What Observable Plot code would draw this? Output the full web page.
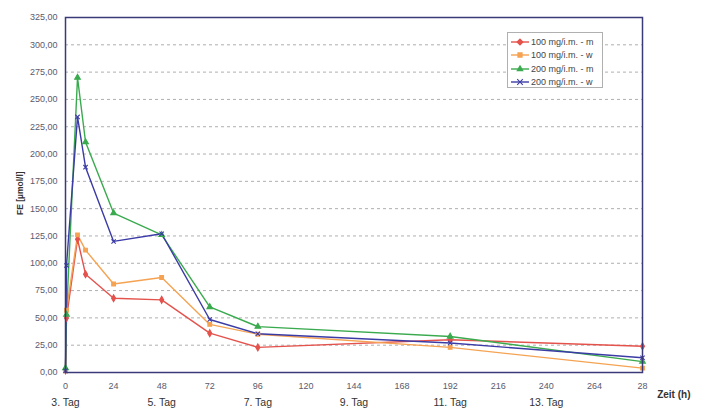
<!DOCTYPE html>
<html>
<head>
<meta charset="utf-8">
<script src="https://cdn.jsdelivr.net/npm/d3@7"></script>
<script src="https://cdn.jsdelivr.net/npm/@observablehq/plot@0.6"></script>
<style>
  body { margin: 0; background: #fff; font-family: "Liberation Sans", Arial, sans-serif; }
  #wrap { position: relative; width: 707px; height: 410px; }
  #legend { position: absolute; left: 507px; top: 32px; width: 96px; height: 56px; border: 1px solid #b0b0b0; background: #fff; box-sizing: border-box; padding: 2px 0 0 2px; }
  .row { display: flex; align-items: center; height: 13.5px; font-size: 9px; color: #444; white-space: nowrap; }
  .row svg { margin-right: 1px; flex: none; }
</style>
</head>
<body>
<div id="wrap"></div>
<script>
const hours = [0, 0.5, 6, 10, 24, 48, 72, 96, 192, 288];
const seriesNames = ["100 mg/i.m. - m", "100 mg/i.m. - w", "200 mg/i.m. - m", "200 mg/i.m. - w"];
const red    = [2, 50, 122, 90, 68, 66.5, 36, 23, 30, 24];
const orange = [2, 57, 126, 112, 81, 87, 44, 35, 23, 4];
const green  = [4, 53, 270, 211, 146, 126, 60, 42, 33, 10];
const blue   = [1.5, 98, 234, 188, 120, 127, 48.5, 35.5, 27, 13.5];
const colors = ["#e4524c", "#f5a352", "#3aaa4e", "#3b3ba6"];
const symbols = ["diamond", "square", "triangle", "times"];
const xTicks = [0, 24, 48, 72, 96, 120, 144, 168, 192, 216, 240, 264, 288];
const xTickLabels = ["0", "24", "48", "72", "96", "120", "144", "168", "192", "216", "240", "264", "28"];
const dayTicks = [0, 48, 96, 144, 192, 240];
const dayLabels = ["3. Tag", "5. Tag", "7. Tag", "9. Tag", "11. Tag", "13. Tag"];
const yTicks = d3.range(0, 326, 25);

const allValues = [red, orange, green, blue];
const data = [];
allValues.forEach((vals, i) => vals.forEach((v, j) => data.push({series: seriesNames[i], h: hours[j], v})));

const chart = Plot.plot({
  width: 707, height: 410,
  marginLeft: 65, marginRight: 65, marginTop: 17, marginBottom: 38,
  style: {fontFamily: "Liberation Sans, Arial, sans-serif", background: "#fff"},
  x: {domain: [0, 288]},
  y: {domain: [0, 325]},
  color: {domain: seriesNames, range: colors},
  symbol: {domain: seriesNames, range: symbols},
  marks: [
    Plot.gridY(yTicks.filter(d => d > 0 && d < 325), {stroke: "#9a9a9a", strokeOpacity: 1, strokeDasharray: "3,3", strokeWidth: 0.8}),
    Plot.axisY(yTicks, {tickSize: 0, tickPadding: 8, fontSize: 9, fill: "#5a5a6e", tickFormat: d => d.toFixed(2).replace(".", ","), label: null}),
    Plot.axisX(xTicks, {tickSize: 0, tickPadding: 10, fontSize: 9, fill: "#5a5a6e", tickFormat: d => xTickLabels[xTicks.indexOf(d)], label: null}),
    Plot.axisX(dayTicks, {tickSize: 0, tickPadding: 26, fontSize: 10.5, fill: "#333", tickFormat: d => dayLabels[dayTicks.indexOf(d)], label: null}),
    Plot.line(data, {x: "h", y: "v", z: "series", stroke: "series", strokeWidth: 1.4}),
    Plot.dot(data, {x: "h", y: "v", stroke: "series", fill: "series", symbol: "series", r: 2.1, strokeWidth: 1.1}),
    Plot.frame({stroke: "#3a3a78", strokeWidth: 1.5}),
    Plot.text(["Zeit (h)"], {frameAnchor: "bottom-right", dx: 48, dy: 25, fontSize: 10, fontWeight: "bold", fill: "#333"}),
    Plot.text(["FE [µmol/l]"], {frameAnchor: "left", dx: -45, dy: 20, rotate: -90, fontSize: 8.5, fontWeight: "bold", fill: "#333"})
  ]
});
const wrap = document.getElementById("wrap");
wrap.appendChild(chart);

const legend = document.createElement("div");
legend.id = "legend";
seriesNames.forEach((name, i) => {
  const row = document.createElement("div");
  row.className = "row";
  const sym = d3.symbol(
    {diamond: d3.symbolDiamond2, square: d3.symbolSquare2, triangle: d3.symbolTriangle2, times: d3.symbolTimes}[symbols[i]], 22)();
  row.innerHTML = `<svg width="20" height="10"><line x1="1" x2="19" y1="5" y2="5" stroke="${colors[i]}" stroke-width="1.4"/><path d="${sym}" transform="translate(10,5)" fill="${colors[i]}" stroke="${colors[i]}" stroke-width="1.1"/></svg><span>${name}</span>`;
  legend.appendChild(row);
});
wrap.appendChild(legend);
</script>
</body>
</html>
